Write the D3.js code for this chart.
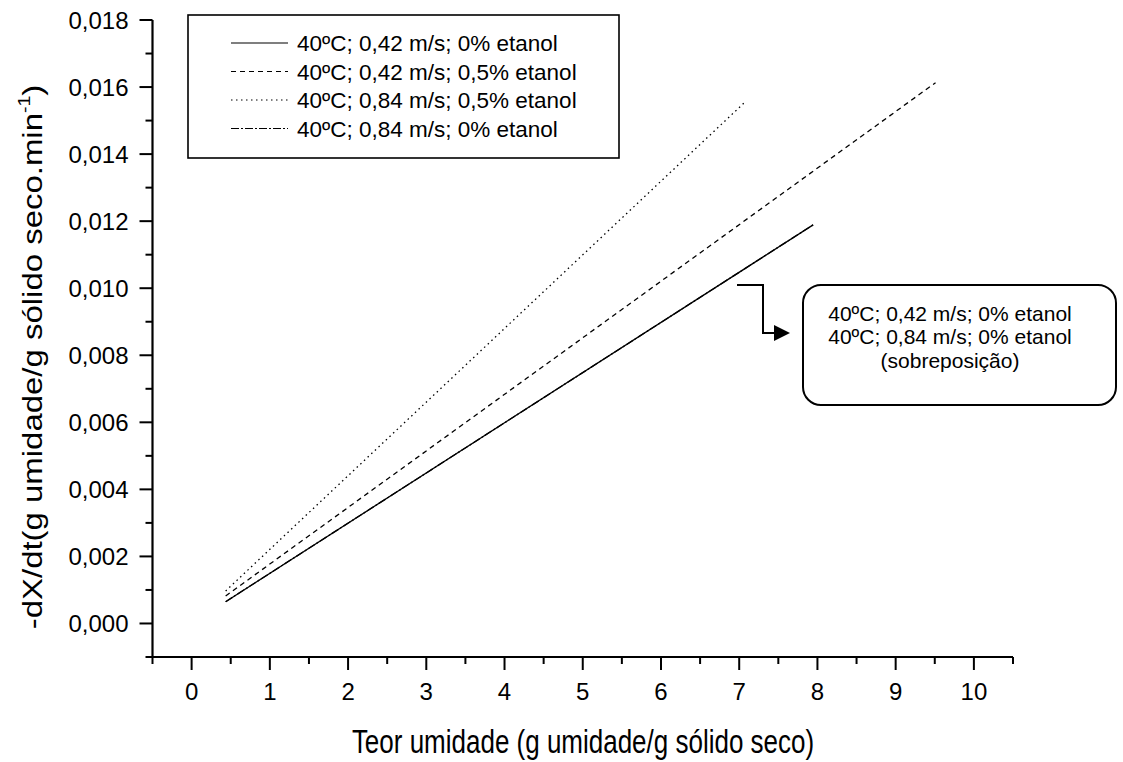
<!DOCTYPE html>
<html>
<head>
<meta charset="utf-8">
<script src="https://cdn.jsdelivr.net/npm/d3@7"></script>
<style>
  html, body { margin: 0; padding: 0; background: #fff; }
  svg { display: block; font-family: "Liberation Sans", Arial, sans-serif; }
</style>
</head>
<body>
<svg id="chart" width="1123" height="762"></svg>
<script>
// Drying-rate curves: -dX/dt versus moisture content
const seriesNames = [
  "40ºC; 0,42 m/s; 0% etanol",
  "40ºC; 0,42 m/s; 0,5% etanol",
  "40ºC; 0,84 m/s; 0,5% etanol",
  "40ºC; 0,84 m/s; 0% etanol"
];
const seriesDash = ["none", "5,4", "1.5,3.5", "8,2,2,2"];

// Moisture content (g water / g dry solid) at the ends of each fitted line
const moisture_042_0 = [0.435, 7.945];
const moisture_042_05 = [0.435, 9.51];
const moisture_084_05 = [0.435, 7.06];
const moisture_084_0 = [0.435, 7.945];

// Drying rate at those points
const rate_042_0 = [0.00065, 0.01189];
const rate_042_05 = [0.00082, 0.01613];
const rate_084_05 = [0.00097, 0.01552];
const rate_084_0 = [0.00065, 0.01189];

const xTicks = [0, 1, 2, 3, 4, 5, 6, 7, 8, 9, 10];
const yTicks = [0, 0.002, 0.004, 0.006, 0.008, 0.010, 0.012, 0.014, 0.016, 0.018];

const noteLines = [
  "40ºC; 0,42 m/s; 0% etanol",
  "40ºC; 0,84 m/s; 0% etanol",
  "(sobreposição)"
];

const series = [
  { name: seriesNames[3], dash: seriesDash[3], x: moisture_084_0, y: rate_084_0 },
  { name: seriesNames[0], dash: seriesDash[0], x: moisture_042_0, y: rate_042_0 },
  { name: seriesNames[1], dash: seriesDash[1], x: moisture_042_05, y: rate_042_05 },
  { name: seriesNames[2], dash: seriesDash[2], x: moisture_084_05, y: rate_084_05 }
];

const svg = d3.select("#chart");

const x = d3.scaleLinear().domain([-0.5, 10.5]).range([152.5, 1013]);
const y = d3.scaleLinear().domain([-0.001, 0.018]).range([657, 20]);

const fmtY = v => d3.format(".3f")(v).replace(".", ",");

// Minor ticks sit halfway between the labelled ones
const xMinor = d3.range(-0.5, 10.51, 1);
const yMinor = d3.range(-0.001, 0.0181, 0.002);

const gx = svg.append("g").attr("transform", "translate(0,657)");
gx.append("line").attr("x1", x(-0.5)).attr("x2", x(10.5)).attr("stroke", "#000").attr("stroke-width", 2.2);
gx.selectAll("line.minor").data(xMinor).join("line").attr("class", "minor")
  .attr("x1", d => x(d)).attr("x2", d => x(d)).attr("y1", 0).attr("y2", 7)
  .attr("stroke", "#000").attr("stroke-width", 2);
gx.selectAll("line.major").data(xTicks).join("line").attr("class", "major")
  .attr("x1", d => x(d)).attr("x2", d => x(d)).attr("y1", 0).attr("y2", 13)
  .attr("stroke", "#000").attr("stroke-width", 2);
gx.selectAll("text").data(xTicks).join("text")
  .attr("x", d => x(d)).attr("y", 43).attr("text-anchor", "middle")
  .attr("font-size", 24).text(d => d);

const gy = svg.append("g").attr("transform", "translate(152.5,0)");
gy.append("line").attr("y1", y(0.018)).attr("y2", y(-0.001)).attr("stroke", "#000").attr("stroke-width", 2.2);
gy.selectAll("line.minor").data(yMinor).join("line").attr("class", "minor")
  .attr("y1", d => y(d)).attr("y2", d => y(d)).attr("x1", 0).attr("x2", -7)
  .attr("stroke", "#000").attr("stroke-width", 2);
gy.selectAll("line.major").data(yTicks).join("line").attr("class", "major")
  .attr("y1", d => y(d)).attr("y2", d => y(d)).attr("x1", 0).attr("x2", -13)
  .attr("stroke", "#000").attr("stroke-width", 2);
gy.selectAll("text").data(yTicks).join("text")
  .attr("x", -24).attr("y", d => y(d)).attr("dy", "0.36em").attr("text-anchor", "end")
  .attr("font-size", 24).text(d => fmtY(d));

// Axis titles (tall, narrow lettering)
svg.append("text").attr("transform", "translate(583,753) scale(1,1.27)")
  .attr("text-anchor", "middle")
  .attr("font-size", 26).text("Teor umidade (g umidade/g sólido seco)");

const yt = svg.append("text").attr("transform", "translate(42,357) scale(1,1.22) rotate(-90)")
  .attr("text-anchor", "middle").attr("font-size", 27);
yt.append("tspan").text("-dX/dt(g umidade/g sólido seco.min");
yt.append("tspan").attr("font-size", 16).attr("dy", -12).text("-1");
yt.append("tspan").attr("dy", 12).text(")");

// Lines
const line = d3.line().x(d => x(d[0])).y(d => y(d[1]));
svg.append("g").selectAll("path").data(series).join("path")
  .attr("d", s => line(s.x.map((v, i) => [v, s.y[i]])))
  .attr("fill", "none").attr("stroke", "#000").attr("stroke-width", 1.3)
  .attr("stroke-dasharray", s => s.dash);

// Legend
const lg = svg.append("g");
lg.append("rect").attr("x", 188).attr("y", 15).attr("width", 431).attr("height", 143)
  .attr("fill", "#fff").attr("stroke", "#000").attr("stroke-width", 1.6);
const rows = lg.selectAll("g.row").data(seriesNames).join("g").attr("class", "row")
  .attr("transform", (d, i) => `translate(0,${43 + i * 28.5})`);
rows.append("line").attr("x1", 231).attr("x2", 288).attr("y1", 0).attr("y2", 0)
  .attr("stroke", "#000").attr("stroke-width", 1.2)
  .attr("stroke-dasharray", (d, i) => seriesDash[i]);
rows.append("text").attr("x", 297).attr("y", 0).attr("dy", "0.36em")
  .attr("font-size", 22.5).text(d => d);

// Callout arrow and note
svg.append("path").attr("d", "M737,285 H763 V333 H776")
  .attr("fill", "none").attr("stroke", "#000").attr("stroke-width", 2);
svg.append("path").attr("d", "M774,325 L790,333 L774,341 Z").attr("fill", "#000");
svg.append("rect").attr("x", 803).attr("y", 285).attr("width", 313).attr("height", 120)
  .attr("rx", 18).attr("ry", 18).attr("fill", "#fff").attr("stroke", "#000").attr("stroke-width", 2);
svg.append("g").selectAll("text").data(noteLines).join("text")
  .attr("x", 950).attr("y", (d, i) => 313 + i * 23.5).attr("dy", "0.36em")
  .attr("text-anchor", "middle").attr("font-size", 21).text(d => d);
</script>
</body>
</html>
